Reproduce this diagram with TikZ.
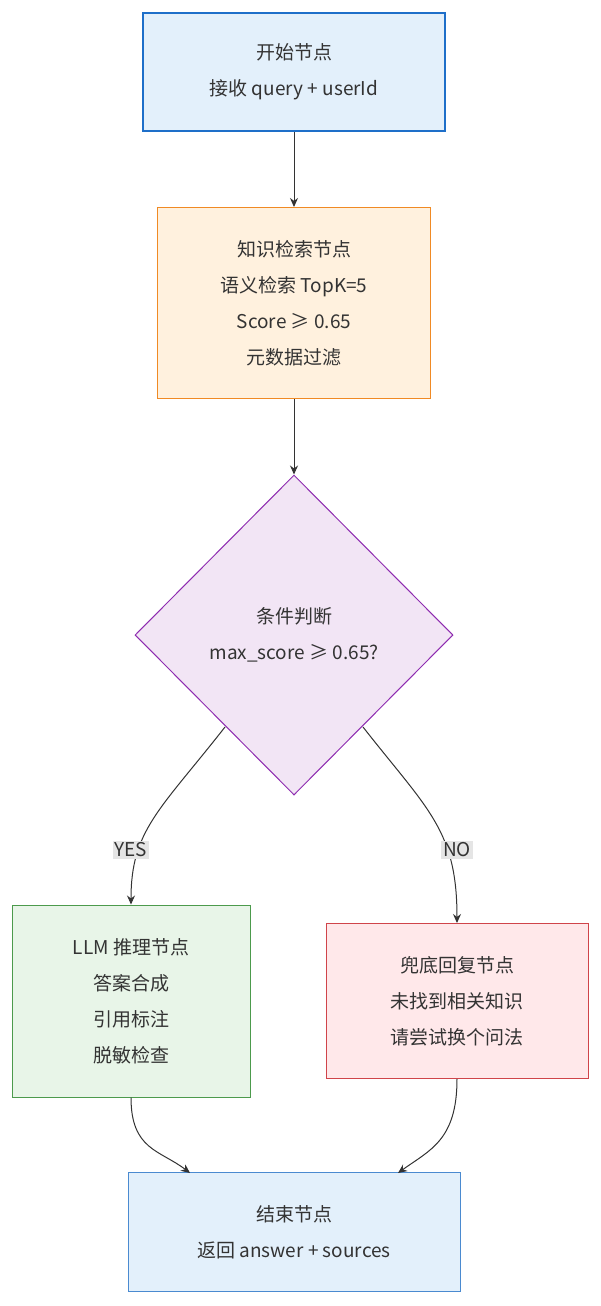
\documentclass[tikz,border=0pt]{standalone}
\usepackage{fontspec}
\setmainfont{Noto Sans CJK SC}
\usetikzlibrary{shapes.geometric, arrows.meta, positioning}
\definecolor{bluefill}{HTML}{E3F0FB}
\definecolor{blueline}{HTML}{1E6FC9}
\definecolor{orangefill}{HTML}{FFF1DE}
\definecolor{orangeline}{HTML}{F08A24}
\definecolor{purplefill}{HTML}{F2E5F5}
\definecolor{purpleline}{HTML}{8E2CB0}
\definecolor{greenfill}{HTML}{E8F5E8}
\definecolor{greenline}{HTML}{4C9A4C}
\definecolor{redfill}{HTML}{FFE8EA}
\definecolor{redline}{HTML}{D0444A}
\definecolor{endline}{HTML}{4A8AD0}
\definecolor{edgegray}{HTML}{333333}
\tikzset{
  box/.style={draw, rectangle, align=center, inner sep=0pt,
    font=\fontsize{19pt}{36pt}\selectfont, text=edgegray},
  flow/.style={edgegray, line width=1pt, -{Stealth[length=9pt, width=8pt]}},
  tag/.style={fill=gray!20, inner sep=2pt, font=\fontsize{19pt}{22pt}\selectfont, text=edgegray}
}
\begin{document}
\begin{tikzpicture}[x=1pt, y=-1pt]
        \useasboundingbox (0,0) rectangle (600,1306);

        % Nodes
        \node[box, fill=bluefill, draw=blueline, line width=2pt, minimum width=302pt, minimum height=118pt]
            (start) at (294,72) {开始节点\\接收 query + userId};
        \node[box, fill=orangefill, draw=orangeline, line width=1pt, minimum width=273pt, minimum height=191pt]
            (retrieve) at (294,303) {知识检索节点\\语义检索 TopK=5\\Score ≥ 0.65\\元数据过滤};
        \node[box, diamond, fill=purplefill, draw=purpleline, line width=1pt, minimum width=318pt, minimum height=320pt]
            (judge) at (294,635) {条件判断\\max\_score ≥ 0.65?};
        \node[box, fill=greenfill, draw=greenline, line width=1pt, minimum width=238pt, minimum height=192pt]
            (llm) at (131,1001) {LLM 推理节点\\答案合成\\引用标注\\脱敏检查};
        \node[box, fill=redfill, draw=redline, line width=1pt, minimum width=262pt, minimum height=155pt]
            (fallback) at (457,1001) {兜底回复节点\\未找到相关知识\\请尝试换个问法};
        \node[box, fill=bluefill, draw=endline, line width=1pt, minimum width=332pt, minimum height=119pt]
            (finish) at (294,1232) {结束节点\\返回 answer + sources};

        % Edges
        \draw[flow] (start) -- (retrieve);
        \draw[flow] (retrieve) -- (judge);
        \draw[flow] (225,727) .. controls (160,810) and (131,830) .. (llm.north);
        \draw[flow] (363,727) .. controls (428,810) and (457,830) .. (fallback.north);
        \draw[flow] (llm.south) .. controls (131,1150) and (160,1150) .. (190,1173);
        \draw[flow] (fallback.south) .. controls (457,1140) and (430,1150) .. (398,1173);

        % Labels
        \node[tag] (yes) at (131,850) {YES};
        \node[tag] (no) at (457,850) {NO};
\end{tikzpicture}
\end{document}
